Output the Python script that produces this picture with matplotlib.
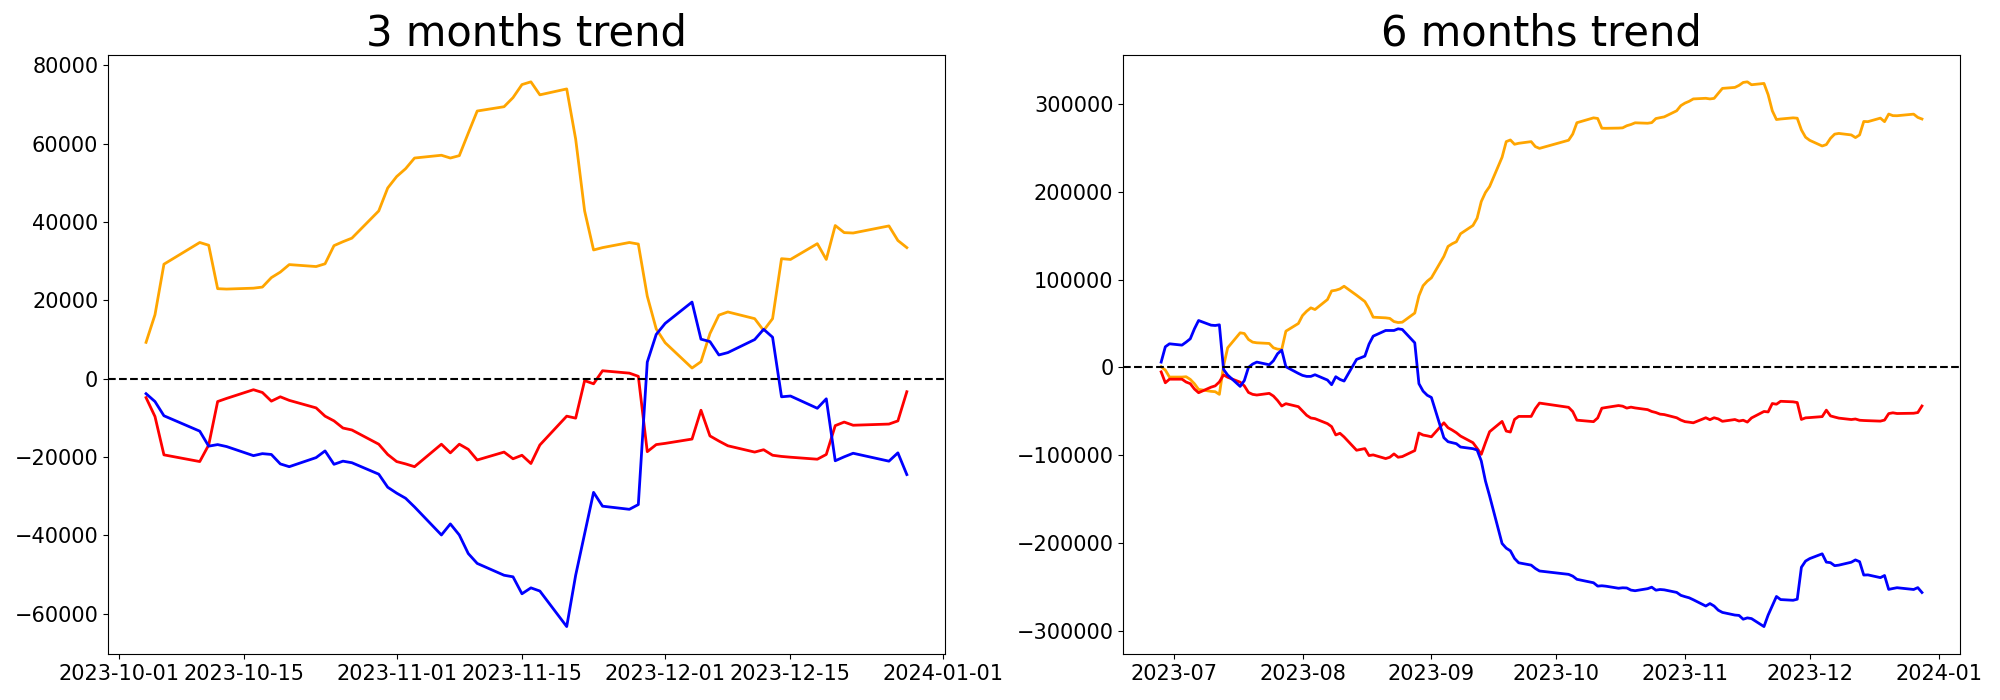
import numpy as np
import pandas as pd
import matplotlib
matplotlib.use("Agg")
import matplotlib.pyplot as plt

# KRX closed days inside the plotted windows
holidays = ["2023-08-15", "2023-09-28", "2023-09-29", "2023-10-02",
            "2023-10-03", "2023-10-09", "2023-12-25", "2023-12-29"]

dates_3m = pd.bdate_range("2023-10-04", "2023-12-28", freq="C", holidays=holidays)
dates_6m = pd.bdate_range("2023-06-28", "2023-12-28", freq="C", holidays=holidays)

# 3 months trend (cumulative)
orange_3m = [9270, 16320, 29220, 34760, 34060, 22970, 22870, 23100, 23380, 25790,
             27200, 29120, 28620, 29320, 33960, 34960, 35870, 42820, 48670,
             51590, 53600, 56320, 57030, 56320, 56930, 62670, 68320, 69420, 71740,
             75070, 75770, 72450, 73960, 61160, 42820, 32850, 33450, 34760, 34360,
             21060, 12700,
             9170, 2720, 4330, 11490, 16220, 17030, 15320, 12290, 15320, 30630,
             30430, 34460, 30430, 39090, 37280, 37180, 38990, 35270, 33450]
red_3m = [-4840, -9670, -19450, -21160, -16930, -5840, -5040, -2820, -3530, -5740,
          -4630, -5540, -7460, -9570, -10780, -12600, -13100, -16730, -19350,
          -21160, -21760, -22470, -16730, -18940, -16730, -18040, -20760, -18740,
          -20450, -19550, -21660, -16930, -9570, -10080, -500, -1310, 2020, 1410,
          600, -18640, -16830,
          -16520, -15420, -8060, -14610, -15920, -17130, -18740, -18140, -19550,
          -19850, -20050, -20560, -19350, -11990, -11080, -11890, -11590, -10780, -3330]
blue_3m = [-3830, -5840, -9470, -13400, -17230, -16830, -17330, -19650, -19140, -19350,
           -21760, -22470, -20150, -18440, -21860, -21060, -21460, -24380, -27710,
           -29220, -30530, -32750, -39900, -37080, -39900, -44640, -47160, -50180,
           -50580, -54910, -53400, -54210, -63280, -50180, -39600, -29020, -32550,
           -33350, -32140, 4230, 11290,
           14110, 19550, 10080, 9470, 6050, 6650, 9980, 12600, 10580, -4630,
           -4430, -7560, -5140, -20960, -19950, -19040, -21060, -18940, -24480]

# 6 months trend (cumulative)
orange_6m = [760, -3030, -10990,
             -10990, -10610, -13640, -18560, -25000, -27270, -27650, -30680, 1500, 22350,
             39400, 38640, 31820, 28790, 28030, 27270, 22350, 20800, 20460, 41290, 50000,
             59090, 64020, 67810, 65910, 77280, 87120, 87880, 89400, 92430, 82200,
             75000, 67050, 57200, 56440, 55800, 52200, 51100, 51500, 61900, 81500,
             93000, 98200,
             102000, 126400, 137770, 140800, 143070, 152160, 161630, 169970, 188910,
             199130, 205950, 239290, 257090, 258990, 254060, 255200, 257090, 251410, 249400,
             258670, 265720, 278620, 284160, 283460, 272370, 272270, 272500, 272780,
             275190, 276600, 278520, 278020, 278720, 283360, 284360, 285270, 292220, 298070,
             300990, 303000, 305720, 306430, 305720, 306330, 312070, 317720, 318820,
             321140, 324470, 325170, 321850, 323360, 310560, 292220, 282250, 282850,
             284160, 283760, 270460, 262100,
             258570, 252120, 253730, 260890, 265620, 266430, 264720, 261690, 264720,
             280030, 279830, 283860, 279830, 288490, 286680, 286580, 288390, 284670, 282850]
red_6m = [-5100, -17500, -13400,
          -13400, -16650, -18500, -24600, -28800, -22500, -21000, -16500, -8500, -11200,
          -16800, -21000, -28500, -30680, -31440, -29550, -32580, -37700, -43940, -41290,
          -44700,
          -49620, -54550, -57580, -58340, -64020, -67430, -76900, -75000, -79170, -94320,
          -92430, -100380, -99620, -103790, -102280, -98490, -102280, -101520, -94700,
          -74700, -77000, -77900,
          -79000, -63060, -68670, -71320, -74350, -78150, -85720, -92160, -98980,
          -85720, -73220, -61480, -72470, -73600, -59210, -55800, -55800, -47000, -40600,
          -45440, -50270, -60050, -61760, -57530, -46440, -45640, -43420, -44130,
          -46340, -45230, -46140, -48060, -50170, -51380, -53200, -53700, -57330, -59950,
          -61760, -62360, -63070, -57330, -59540, -57330, -58640, -61360, -59340,
          -61050, -60150, -62260, -57530, -50170, -50680, -41100, -41910, -38580,
          -39190, -40000, -59240, -57430,
          -57120, -56020, -48660, -55210, -56520, -57730, -59340, -58740, -60150,
          -60450, -60650, -61160, -59950, -52590, -51680, -52490, -52190, -51380, -43930]
blue_6m = [6060, 23490, 26890,
           25380, 28790, 32580, 43940, 53410, 48110, 47730, 48490, -2270, -8710,
           -21590, -15000, 0, 3790, 6060, 3030, 7580, 15600, 19700, 760, -6820,
           -9090, -10230, -10230, -8330, -14390, -19700, -10610, -13640, -15530, 9090,
           12880, 26520, 35610, 42050, 42050, 42050, 43940, 43180, 28030, -18500,
           -27000, -31700,
           -34200, -80040, -84580, -85720, -86850, -90640, -92540, -94050, -106550,
           -129290, -146330, -200500, -205800, -208830, -217540, -222470, -225120,
           -228910, -231800,
           -235630, -237640, -241270, -245200, -249030, -248630, -249130, -251450,
           -250940, -251150, -253560, -254270, -251950, -250240, -253660, -252860,
           -253260, -256180, -259510,
           -261020, -262330, -264550, -271700, -268880, -271700, -276440, -278960,
           -281980, -282380, -286710, -285200, -286010, -295080, -281980, -271400,
           -260820, -264350, -265150, -263940, -227570, -220510,
           -217690, -212250, -221720, -222330, -225750, -225150, -221820, -219200,
           -221220, -236430, -236230, -239360, -236940, -252760, -251750, -250840,
           -252860, -250740, -256280]

fig, axes = plt.subplots(1, 2, figsize=(20, 7), dpi=100)
plt.subplots_adjust(left=0.054, right=0.98, bottom=0.066, top=0.922, wspace=0.213)

panels = [
    (axes[0], dates_3m, orange_3m, red_3m, blue_3m, "3 months trend"),
    (axes[1], dates_6m, orange_6m, red_6m, blue_6m, "6 months trend"),
]
for ax, d, o, r, b, title in panels:
    ax.plot(d, o, color="orange", linewidth=2)
    ax.plot(d, r, color="red", linewidth=2)
    ax.plot(d, b, color="blue", linewidth=2)
    ax.axhline(0, color="black", linestyle="--", linewidth=1.5)
    ax.set_title(title, fontsize=30)
    ax.tick_params(labelsize=15)

plt.savefig("out.png")
